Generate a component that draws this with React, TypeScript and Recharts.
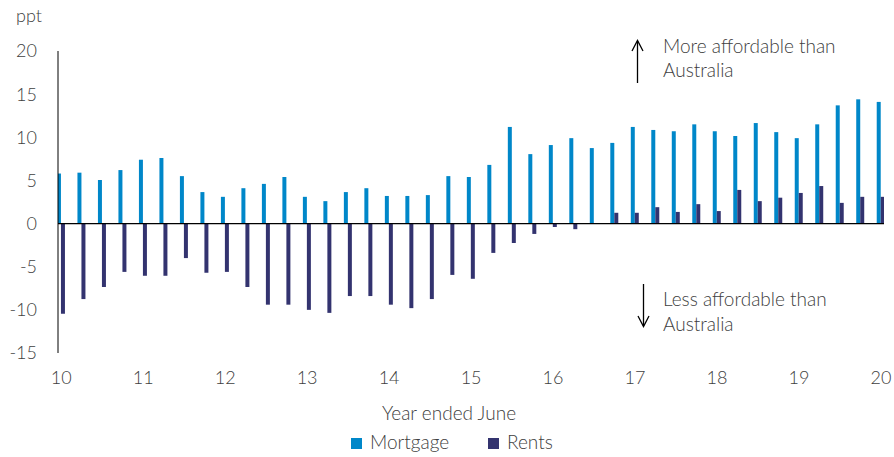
import { BarChart, Bar, XAxis, YAxis, ReferenceLine } from "recharts";

// year ended June, quarterly (2010 = 10)
const quarters = [
  10, 10.25, 10.5, 10.75, 11, 11.25, 11.5, 11.75, 12, 12.25, 12.5, 12.75,
  13, 13.25, 13.5, 13.75, 14, 14.25, 14.5, 14.75, 15, 15.25, 15.5, 15.75,
  16, 16.25, 16.5, 16.75, 17, 17.25, 17.5, 17.75, 18, 18.25, 18.5, 18.75,
  19, 19.25, 19.5, 19.75, 20,
];

const mortgage = [
  5.8, 5.9, 5.05, 6.2, 7.4, 7.6, 5.5, 3.65, 3.1, 4.1, 4.6, 5.4,
  3.1, 2.6, 3.65, 4.1, 3.2, 3.2, 3.3, 5.5, 5.4, 6.8, 11.2, 8.05,
  9.1, 9.9, 8.75, 9.35, 11.2, 10.85, 10.7, 11.5, 10.7, 10.15, 11.65, 10.6,
  9.9, 11.5, 13.7, 14.4, 14.1,
];

const rents = [
  -10.45, -8.75, -7.35, -5.6, -6.05, -6.05, -4.0, -5.7, -5.6, -7.35, -9.4, -9.4,
  -10.0, -10.35, -8.4, -8.4, -9.4, -9.8, -8.75, -5.95, -6.4, -3.4, -2.25, -1.2,
  -0.4, -0.65, 0, 1.25, 1.25, 1.9, 1.35, 2.25, 1.45, 3.9, 2.6, 3.0,
  3.55, 4.35, 2.4, 3.1, 3.1,
];

const yearTicks = [10, 11, 12, 13, 14, 15, 16, 17, 18, 19, 20];
const valueTicks = [-15, -10, -5, 0, 5, 10, 15, 20];

const MORTGAGE_COLOR = "#0087C9";
const RENTS_COLOR = "#33336F";
const TEXT_COLOR = "#404040";
const FONT = "Lato, 'Open Sans', sans-serif";

const data = quarters.map((t, i) => ({ t, Mortgage: mortgage[i], Rents: rents[i] }));

const tickStyle = { fontSize: 18, fill: TEXT_COLOR, fontFamily: FONT, fontWeight: 300 };

export default function App() {
  return (
    <div style={{ position: "absolute", left: 0, top: 0, width: 894, height: 457, background: "#fff" }}>
      <BarChart
        width={894}
        height={457}
        data={data}
        margin={{ top: 51, right: 10, left: 8, bottom: 44 }}
        barGap={0}
      >
        <XAxis
          dataKey="t"
          type="number"
          domain={[9.961, 20.037]}
          allowDataOverflow
          ticks={yearTicks}
          tickFormatter={(v) => String(v)}
          axisLine={false}
          tickLine={false}
          tickSize={0}
          tickMargin={18}
          height={60}
          tick={tickStyle}
          interval={0}
        />
        <YAxis
          domain={[-15, 20]}
          ticks={valueTicks}
          width={50}
          axisLine={{ stroke: "#000", strokeWidth: 1 }}
          tickLine={false}
          tickSize={0}
          tickMargin={21}
          tick={tickStyle}
          interval={0}
        />
        <Bar dataKey="Mortgage" fill={MORTGAGE_COLOR} barSize={4} isAnimationActive={false} />
        <Bar dataKey="Rents" fill={RENTS_COLOR} barSize={4} isAnimationActive={false} />
        <ReferenceLine y={0} stroke="#000" strokeWidth={1.2} />
      </BarChart>

      {/* labels, annotations and legend */}
      <svg
        width={894}
        height={457}
        style={{ position: "absolute", left: 0, top: 0, pointerEvents: "none" }}
        fontFamily={FONT}
        fontWeight={300}
        fill={TEXT_COLOR}
      >
        <text x={16} y={22} fontSize={18}>ppt</text>

        <g stroke="#000" strokeWidth={1.3} fill="none">
          <line x1={637.5} y1={41} x2={637.5} y2={83} />
          <polyline points="632,51 637.5,40.5 643,51" />
          <line x1={643.5} y1={284} x2={643.5} y2={326} />
          <polyline points="638,316 643.5,326.5 649,316" />
        </g>
        <text x={663} y={53} fontSize={19}>More affordable than</text>
        <text x={663} y={77} fontSize={19}>Australia</text>
        <text x={663} y={306} fontSize={19}>Less affordable than</text>
        <text x={663} y={331} fontSize={19}>Australia</text>

        <text x={449} y={420} fontSize={19} textAnchor="middle">Year ended June</text>

        <rect x={351} y={438} width={11} height={11} fill={MORTGAGE_COLOR} />
        <text x={370} y={449} fontSize={19}>Mortgage</text>
        <rect x={488} y={438} width={11} height={11} fill={RENTS_COLOR} />
        <text x={507} y={449} fontSize={19}>Rents</text>
      </svg>
    </div>
  );
}
